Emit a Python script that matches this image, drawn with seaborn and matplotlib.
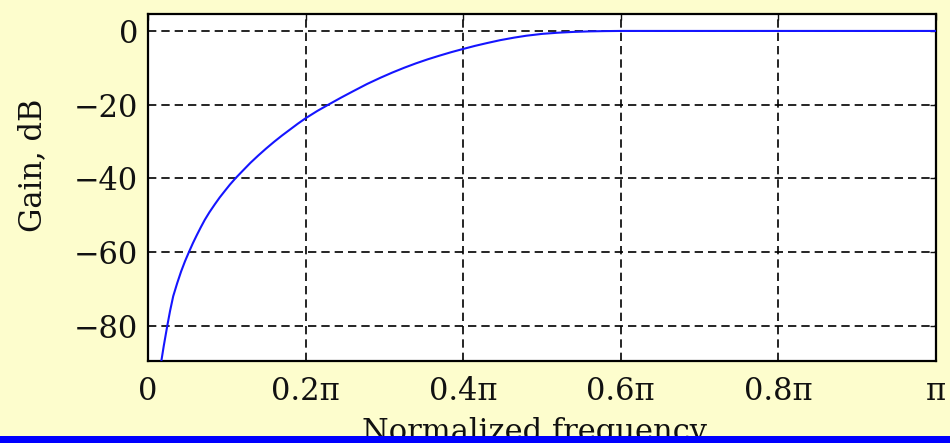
import numpy as np
import pandas as pd
import seaborn as sns
import matplotlib
matplotlib.use("Agg")
import matplotlib.pyplot as plt
from matplotlib.patches import Rectangle

# Data (frequency in units of pi, gain in dB)
freq_pi = [0.017, 0.020, 0.0245, 0.028, 0.032, 0.037, 0.042, 0.047, 0.052, 0.057,
           0.062, 0.067, 0.072, 0.078, 0.085, 0.091, 0.098, 0.104, 0.111, 0.120,
           0.130, 0.140, 0.150, 0.160, 0.170, 0.180, 0.190, 0.200, 0.215, 0.229,
           0.245, 0.260, 0.278, 0.295, 0.310, 0.325, 0.340, 0.355, 0.370, 0.385,
           0.398, 0.415, 0.430, 0.447, 0.465, 0.480, 0.500, 0.520, 0.540, 0.560,
           0.580, 0.600, 0.700, 0.800, 0.900, 1.000]
gain_db = [-89.5, -85.5, -80.0, -76.0, -72.0, -68.5, -65.3, -62.5, -60.0, -57.6,
           -55.4, -53.3, -51.3, -49.2, -47.0, -45.2, -43.3, -41.7, -40.0, -38.0,
           -35.8, -33.8, -31.9, -30.1, -28.4, -26.8, -25.2, -23.7, -21.7, -20.0,
           -18.1, -16.4, -14.4, -12.7, -11.3, -10.0, -8.8, -7.7, -6.7, -5.75,
           -5.0, -4.05, -3.3, -2.5, -1.8, -1.3, -0.8, -0.48, -0.26, -0.12,
           -0.04, 0.0, 0.0, 0.0, 0.0, 0.0]

x_ticks = [0, 0.2, 0.4, 0.6, 0.8, 1.0]
x_ticklabels = ["0", "0.2\u03c0", "0.4\u03c0", "0.6\u03c0", "0.8\u03c0", "\u03c0"]
y_ticks = [0, -20, -40, -60, -80]
y_ticklabels = ["0", "\u221220", "\u221240", "\u221260", "\u221280"]

sns.set_style("white")
plt.rcParams["font.family"] = ["DejaVu Serif", "Liberation Serif"]

df = pd.DataFrame({"f": freq_pi, "g": gain_db})

bg = "#FDFDCD"
W, H = 950, 443
fig = plt.figure(figsize=(9.5, 4.43), dpi=100, facecolor=bg)
L, R, T, B = 148, 936, 14, 361
ax = fig.add_axes([L / W, 1 - B / H, (R - L) / W, (B - T) / H])
ax.set_facecolor("white")

sns.lineplot(data=df, x="f", y="g", ax=ax, color="#1515FF", linewidth=1.5, zorder=3)

ax.set_xlim(0, 1.0)
ax.set_ylim(-89.6, 4.6)
ax.set_xticks(x_ticks)
ax.set_xticklabels(x_ticklabels)
ax.set_yticks(y_ticks)
ax.set_yticklabels(y_ticklabels)

ax.grid(True, color="black", linestyle=(0, (5, 3)), linewidth=1.2)
for s in ax.spines.values():
    s.set_color("black")
    s.set_linewidth(1.6)

ax.tick_params(axis="both", which="both", direction="in", length=4, width=1,
               labelsize=22, top=True, right=True, colors="#111111")
ax.tick_params(axis="x", pad=11)
ax.tick_params(axis="y", pad=7)

ax.set_xlabel("Normalized frequency", fontsize=22, color="#111111")
ax.xaxis.set_label_coords((535 - L) / (R - L), -(417 - B) / (B - T))
ax.set_ylabel("Gain, dB", fontsize=22, color="#111111", va="center")
ax.yaxis.set_label_coords((33 - L) / (R - L), (B - 165) / (B - T))

fig.patches.append(Rectangle((0, 0), 1, 7 / H, transform=fig.transFigure,
                             facecolor="#0000FF", edgecolor="none", zorder=10))

fig.savefig("out.png", dpi=100, facecolor=bg)
